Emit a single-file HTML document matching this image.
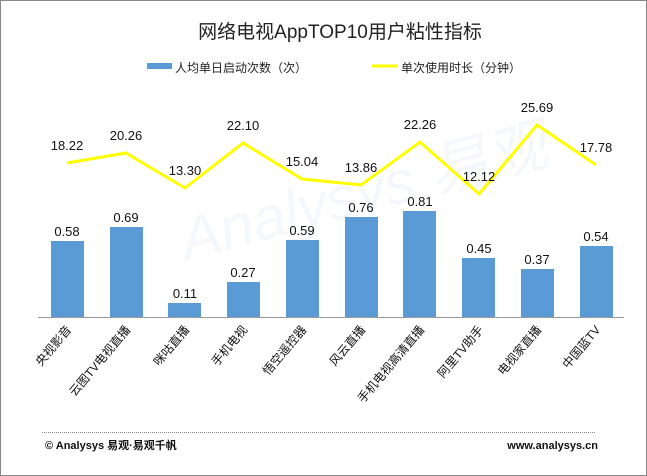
<!DOCTYPE html>
<html><head><meta charset="utf-8"><style>
body{margin:0;background:#fff}
svg{display:block;font-family:"Liberation Sans","Noto Sans CJK SC",sans-serif}
</style></head><body>
<svg width="647" height="476" viewBox="0 0 647 476">
<rect x="0.5" y="0.5" width="646" height="475" fill="#fff" stroke="#888"/>
<text x="340" y="38" font-size="19" text-anchor="middle" fill="#222">网络电视AppTOP10用户粘性指标</text>
<rect x="147" y="63" width="25" height="6" fill="#5b9bd5"/>
<text x="175" y="72" font-size="12" fill="#222">人均单日启动次数（次）</text>
<line x1="372" y1="66" x2="397" y2="66" stroke="#ffff00" stroke-width="3"/>
<text x="401" y="72" font-size="12" fill="#222">单次使用时长（分钟）</text>
<text x="180" y="230" font-size="60" fill="#5b9bd5" opacity="0.06" transform="rotate(-15 300 220)" font-style="italic">Analysys 易观</text>
<g fill="#5b9bd5">
<rect x="51" y="241" width="33" height="76"/>
<rect x="110" y="227" width="33" height="90"/>
<rect x="168" y="303" width="33" height="14"/>
<rect x="227" y="282" width="33" height="35"/>
<rect x="286" y="240" width="33" height="77"/>
<rect x="345" y="217" width="33" height="100"/>
<rect x="403" y="211" width="33" height="106"/>
<rect x="462" y="258" width="33" height="59"/>
<rect x="521" y="269" width="33" height="48"/>
<rect x="580" y="246" width="33" height="71"/>
</g>
<line x1="38" y1="317.5" x2="624" y2="317.5" stroke="#999"/>
<polyline points="67,163 126,153 185,188 243,143 302,179 361,185 420,142 479,194 537,125 596,165" fill="none" stroke="#ffff00" stroke-width="3"/>
<g font-size="13" text-anchor="middle" fill="#111">
<text x="67" y="236">0.58</text><text x="126" y="222">0.69</text><text x="185" y="298">0.11</text><text x="243" y="277">0.27</text><text x="302" y="235">0.59</text><text x="361" y="212">0.76</text><text x="420" y="206">0.81</text><text x="479" y="253">0.45</text><text x="537" y="264">0.37</text><text x="596" y="241">0.54</text>
<text x="67" y="150">18.22</text><text x="126" y="140">20.26</text><text x="185" y="175">13.30</text><text x="243" y="130">22.10</text><text x="302" y="166">15.04</text><text x="361" y="172">13.86</text><text x="420" y="129">22.26</text><text x="479" y="181">12.12</text><text x="537" y="112">25.69</text><text x="596" y="152">17.78</text>
</g>
<g font-size="12" text-anchor="end" fill="#111">
<text transform="translate(72,330) rotate(-50)">央视影音</text>
<text transform="translate(131,330) rotate(-50)">云图TV电视直播</text>
<text transform="translate(190,330) rotate(-50)">咪咕直播</text>
<text transform="translate(248,330) rotate(-50)">手机电视</text>
<text transform="translate(307,330) rotate(-50)">悟空遥控器</text>
<text transform="translate(366,330) rotate(-50)">风云直播</text>
<text transform="translate(425,330) rotate(-50)">手机电视高清直播</text>
<text transform="translate(484,330) rotate(-50)">阿里TV助手</text>
<text transform="translate(542,330) rotate(-50)">电视家直播</text>
<text transform="translate(601,330) rotate(-50)">中国蓝TV</text>
</g>
<line x1="42" y1="432.5" x2="596" y2="432.5" stroke="#888" stroke-dasharray="1,1"/>
<text x="45" y="449" font-size="11" font-weight="bold" fill="#111">© Analysys 易观·易观千帆</text>
<text x="598" y="449" font-size="11" font-weight="bold" text-anchor="end" fill="#111">www.analysys.cn</text>
</svg>
</body></html>
